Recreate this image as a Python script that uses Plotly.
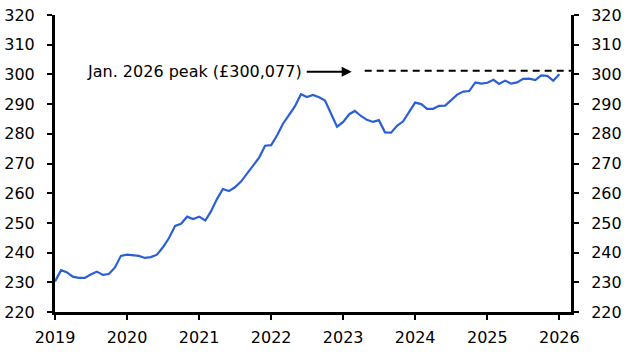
import plotly.graph_objects as go
import pandas as pd

# Monthly house price (£000s), Jan 2019 - Jan 2026
dates = pd.date_range("2019-01-01", "2026-01-01", freq="MS")
prices = [
    230.3, 234.1, 233.4, 231.9, 231.5, 231.5, 232.6, 233.6, 232.5, 232.8, 235.0, 238.9,  # 2019
    239.3, 239.2, 238.9, 238.2, 238.5, 239.3, 241.8, 244.9, 249.0, 249.7, 252.1, 251.3,  # 2020
    252.1, 250.8, 253.8, 258.0, 261.4, 260.7, 262.0, 263.9, 266.7, 269.6, 272.0, 276.0,  # 2021
    276.2, 279.6, 283.3, 286.3, 289.2, 293.3, 292.4, 293.1, 292.3, 291.2, 287.0, 282.4,  # 2022
    284.0, 286.6, 287.7, 286.0, 284.7, 284.0, 284.6, 280.5, 280.4, 282.7, 284.2, 287.4,  # 2023
    290.5, 290.0, 288.4, 288.4, 289.4, 289.5, 291.2, 293.2, 294.2, 294.4, 297.3, 296.9,  # 2024
    297.2, 298.2, 296.8, 297.9, 296.9, 297.3, 298.5, 298.6, 298.1, 299.7, 299.5, 297.9,  # 2025
    300.08,  # 2026
]
peak_label = "Jan. 2026 peak (£300,077)"
peak_line_x = ["2023-04-20", "2026-03-01"]
peak_line_y = [301.2, 301.2]

y_ticks = list(range(220, 321, 10))
x_tickvals = [f"{y}-01-01" for y in range(2019, 2027)]
x_ticktext = [str(y) for y in range(2019, 2027)]

FONT = "DejaVu Sans"
fig = go.Figure()
fig.add_trace(go.Scatter(x=dates, y=prices, mode="lines",
                         line=dict(color="#2B5FD6", width=2.2), showlegend=False))
fig.add_trace(go.Scatter(x=peak_line_x, y=peak_line_y, mode="lines", yaxis="y2",
                         line=dict(color="black", width=2, dash="7px,5px"), showlegend=False))

axis_common = dict(range=[220, 320], tickvals=y_ticks, ticks="outside", ticklen=5, tickwidth=2,
                   tickcolor="black", showline=True, linecolor="black", linewidth=3,
                   showgrid=False, zeroline=False, automargin=False, ticklabelstandoff=9,
                   ticklabeloverflow="allow",
                   tickfont=dict(family=FONT, size=16, color="black"))

fig.update_layout(
    width=631, height=359,
    margin=dict(l=55, r=60, t=15, b=47),
    plot_bgcolor="white", paper_bgcolor="white",
    xaxis=dict(range=["2019-01-01", "2026-03-01"], tickvals=x_tickvals, ticktext=x_ticktext,
               ticks="outside", ticklen=5, tickwidth=2, tickcolor="black",
               showline=True, linecolor="black", linewidth=3, showgrid=False, zeroline=False,
               automargin=False, ticklabelstandoff=4, ticklabeloverflow="allow",
               tickfont=dict(family=FONT, size=16, color="black")),
    yaxis=dict(side="left", **axis_common),
    yaxis2=dict(side="right", overlaying="y", **axis_common),
    annotations=[
        dict(xref="x domain", yref="y domain", x=0.482, y=0.809, text=peak_label, showarrow=False,
             xanchor="right", yanchor="middle", font=dict(family=FONT, size=16, color="black")),
        dict(xref="x domain", yref="y domain", x=0.575, y=0.809, ax=0.485, ay=0.809,
             axref="x domain", ayref="y domain", text="", showarrow=True, arrowhead=2,
             arrowsize=1, arrowwidth=2, arrowcolor="black"),
    ],
)
fig.write_html("out.html", config={"displayModeBar": False},
               post_script="document.body.style.margin='0px';")
